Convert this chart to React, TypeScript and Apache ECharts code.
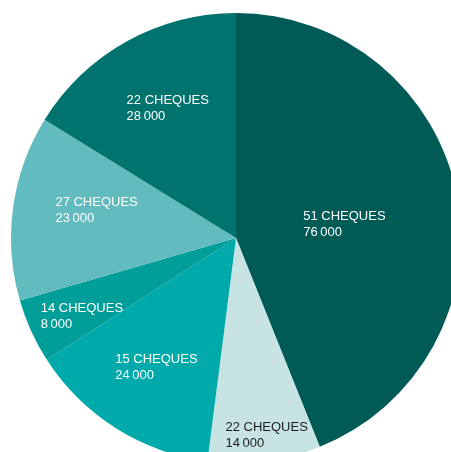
import React, { useEffect, useRef } from "react";
import * as echarts from "echarts";

const chequeCounts = [51, 22, 15, 14, 27, 22];
const amounts = [76000, 14000, 24000, 8000, 23000, 28000];
const sliceColors = ["#005a56", "#c8e3e4", "#00a9aa", "#009e99", "#62bbbe", "#00736f"];
const labelColors = ["#ffffff", "#1d1d1d", "#ffffff", "#ffffff", "#ffffff", "#ffffff"];
const labelOffsets: [number, number][] = [
  [-5, 7],
  [16, 82],
  [-18, 31],
  [-49, 30],
  [-25, -13],
  [-12, -30],
];

const fmt = (v: number) => String(v).replace(/\B(?=(\d{3})+(?!\d))/g, "\u2009");

export default function App() {
  const ref = useRef<HTMLDivElement>(null);
  useEffect(() => {
    if (!ref.current) return;
    const chart = echarts.init(ref.current, null, { renderer: "svg" });
    chart.setOption({
      animation: false,
      series: [
        {
          type: "pie",
          center: [236, 238],
          radius: 225,
          startAngle: 90,
          clockwise: true,
          avoidLabelOverlap: false,
          labelLine: { show: false },
          itemStyle: { borderWidth: 0 },
          emphasis: { disabled: true },
          data: amounts.map((v, i) => ({
            value: v,
            name: `${chequeCounts[i]} CHEQUES`,
            itemStyle: { color: sliceColors[i] },
            label: {
              show: true,
              position: "inside",
              offset: labelOffsets[i],
              color: labelColors[i],
              fontFamily: "Liberation Sans, Arial, sans-serif",
              fontSize: 13,
              lineHeight: 16,
              formatter: `{a|${chequeCounts[i]} CHEQUES}\n{a|${fmt(v)}}`,
              rich: {
                a: {
                  align: "left",
                  color: labelColors[i],
                  fontFamily: "Liberation Sans, Arial, sans-serif",
                  fontSize: 13,
                  lineHeight: 16,
                },
              },
            },
          })),
        },
      ],
    });
    return () => chart.dispose();
  }, []);
  return (
    <div
      ref={ref}
      style={{ position: "fixed", left: 0, top: 0, width: 451, height: 452 }}
    />
  );
}
